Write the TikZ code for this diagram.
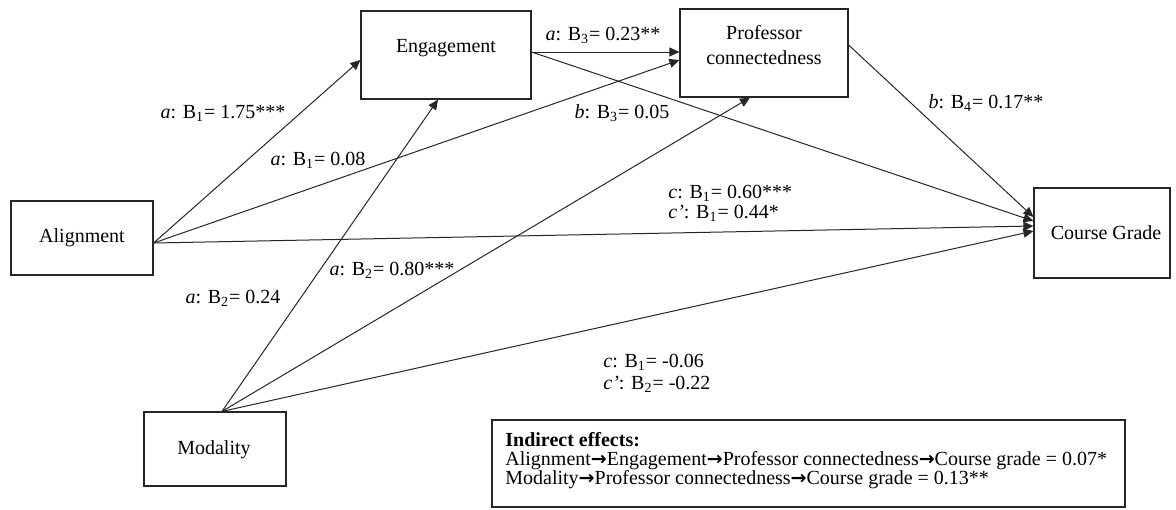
\documentclass[tikz,border=0pt]{standalone}
\usepackage{fontspec}
\setmainfont{Liberation Serif}
\newfontfamily\arrfont{DejaVu Sans}
\usetikzlibrary{arrows.meta}
\newcommand{\ar}{{\arrfont\bfseries\fontsize{9.5pt}{9.5pt}\selectfont →}}
\begin{document}
\begin{tikzpicture}[x=0.5pt,y=-0.5pt,
  box/.style={draw=black!85, line width=0.6pt, inner sep=0pt, fill=white},
  lbl/.style={inner sep=0pt, font=\fontsize{10pt}{12.5pt}\selectfont},
  conn/.style={line width=0.5pt, draw=black!85, -{Triangle[length=5pt,width=4.5pt]}}]
\useasboundingbox (0,0) rectangle (1176,509);
% boxes
\node[box, minimum width=71pt, minimum height=37pt] (align) at (82,238) {};
\node[lbl] (alignT) at (82,238) {Alignment};
\node[box, minimum width=85pt, minimum height=44pt] (eng) at (446,55) {};
\node[lbl] (engT) at (446,48) {Engagement};
\node[box, minimum width=84pt, minimum height=44pt] (prof) at (764,53) {};
\node[lbl] (profT1) at (764,33) {Professor};
\node[lbl] (profT2) at (764,58) {connectedness};
\node[box, minimum width=68pt, minimum height=45pt] (cg) at (1102,233) {};
\node[lbl] (cgT) at (1106,233) {Course Grade};
\node[box, minimum width=71pt, minimum height=37pt] (mod) at (215,449) {};
\node[lbl] (modT) at (214,450) {Modality};
% connectors
\draw[conn] ([yshift=-2.5pt]align.east) -- ([yshift=-2.5pt]eng.west);
\draw[conn] ([yshift=-2.5pt]align.east) -- ([yshift=-3.5pt]prof.west);
\draw[conn] ([yshift=-2.5pt]align.east) -- ([yshift=3.5pt]cg.west);
\draw[conn] ([xshift=3.5pt]mod.north) -- ([xshift=-4pt]eng.south);
\draw[conn] ([xshift=3.5pt]mod.north) -- ([xshift=-7pt]prof.south);
\draw[conn] ([xshift=3.5pt]mod.north) -- ([yshift=1pt]cg.west);
\draw[conn] ([yshift=1.5pt]eng.east) -- ([yshift=0.5pt]prof.west);
\draw[conn] ([yshift=1.5pt]eng.east) -- ([yshift=6pt]cg.west);
\draw[conn] ([yshift=4pt]prof.east) -- ([yshift=8pt]cg.west);
% path labels
\node[lbl] (l1) at (223,113) {\textit{a}: B\textsubscript{1}= 1.75***};
\node[lbl] (l2) at (318,160) {\textit{a}: B\textsubscript{1}= 0.08};
\node[lbl] (l3) at (603,35) {\textit{a}: B\textsubscript{3}= 0.23**};
\node[lbl] (l4) at (622,113) {\textit{b}: B\textsubscript{3}= 0.05};
\node[lbl] (l5) at (986,103) {\textit{b}: B\textsubscript{4}= 0.17**};
\node[lbl, anchor=west] (l6) at (668,193) {\textit{c}: B\textsubscript{1}= 0.60***};
\node[lbl, anchor=west] (l7) at (668,213) {\textit{c’}: B\textsubscript{1}= 0.44*};
\node[lbl] (l8) at (392,270) {\textit{a}: B\textsubscript{2}= 0.80***};
\node[lbl] (l9) at (233,298) {\textit{a}: B\textsubscript{2}= 0.24};
\node[lbl, anchor=west] (l10) at (603,362) {\textit{c}: B\textsubscript{1}= -0.06};
\node[lbl, anchor=west] (l11) at (603,384) {\textit{c’}: B\textsubscript{2}= -0.22};
% indirect effects box
\node[box, minimum width=316.5pt, minimum height=43.5pt] (ind) at (808.5,463.5) {};
\node[inner sep=0pt, anchor=north west, align=left,
      font=\fontsize{10pt}{9.5pt}\selectfont] (indT) at (505,432)
  {\textbf{Indirect effects:}\\
   Alignment\ar Engagement\ar Professor connectedness\ar Course grade = 0.07*\\
   Modality\ar Professor connectedness\ar Course grade = 0.13**};
\end{tikzpicture}
\end{document}
